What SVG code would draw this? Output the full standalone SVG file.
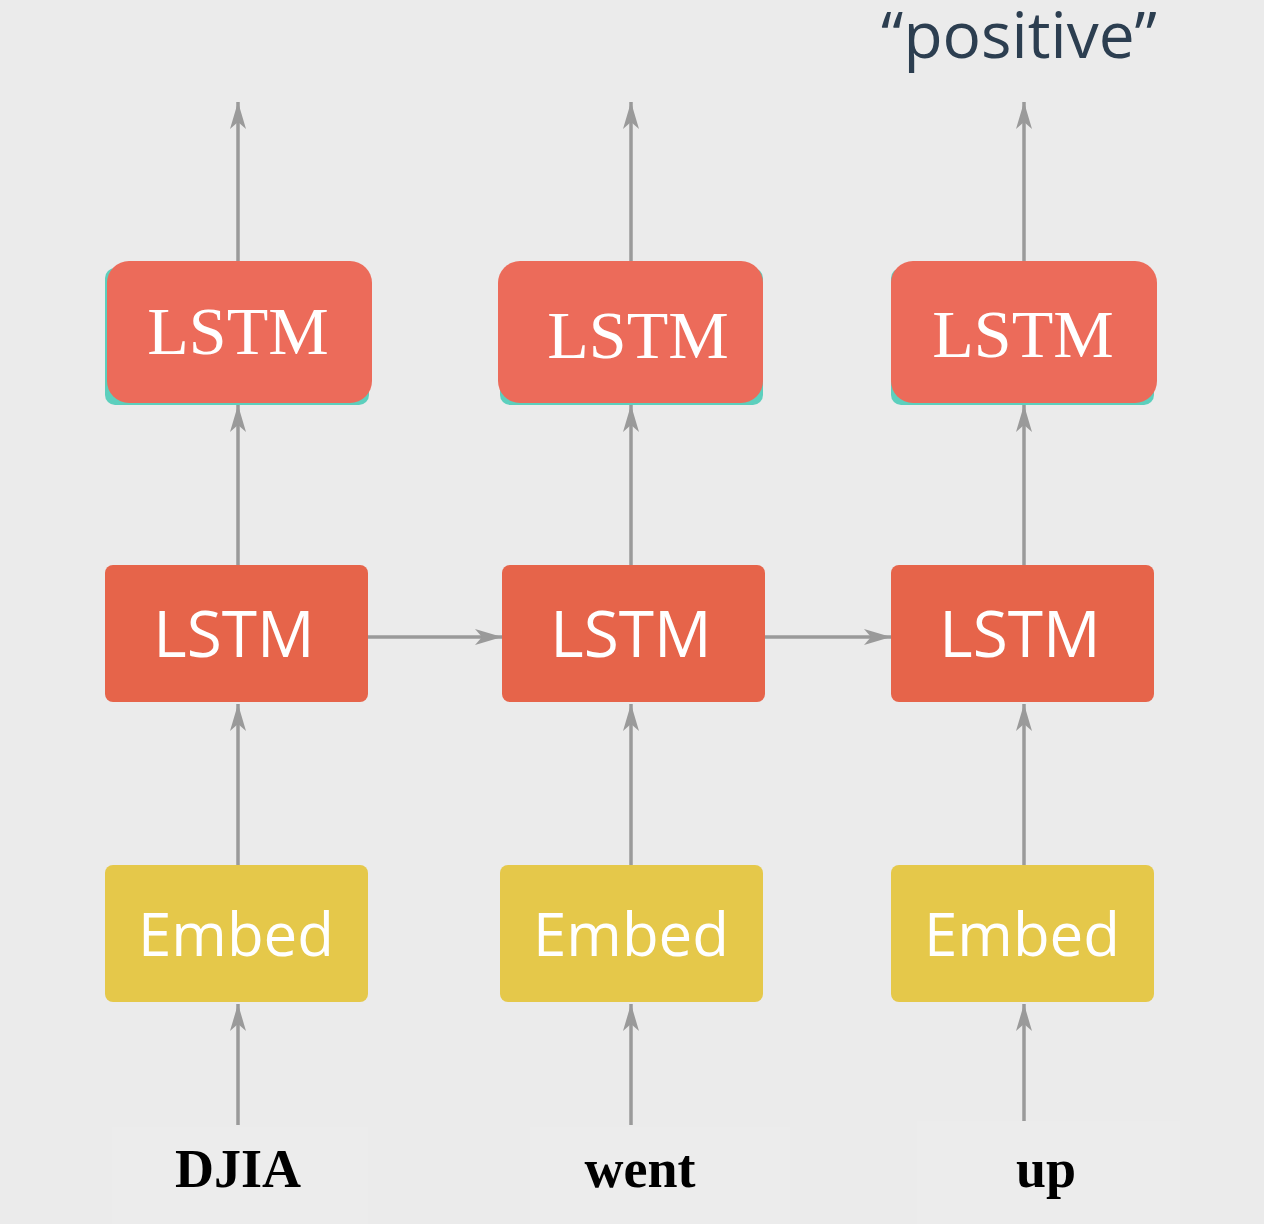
<svg xmlns="http://www.w3.org/2000/svg" width="1264" height="1224" viewBox="0 0 1264 1224">
<defs>
<marker id="ah" markerUnits="userSpaceOnUse" markerWidth="32" markerHeight="22" viewBox="-30 -11 32 22" refX="0" refY="0" orient="auto">
<path d="M0,0 L-27,-8 L-20,0 L-27,8 Z" fill="#9a9a9a"/>
</marker>
<style>
.conn{stroke:#9a9a9a;stroke-width:3.5;fill:none}
.top{fill:#ec6b5a}
.shadow{fill:#5ccfbd}
.mid{fill:#e6644a}
.emb{fill:#e5c84a}
.serif{font-family:"Liberation Serif","Times New Roman",serif;fill:#fff;font-size:68px;text-anchor:middle}
.sans{font-family:"Open Sans","Noto Sans",sans-serif;fill:#fff;font-size:60px;text-anchor:middle}
.sansl{font-family:"Open Sans","Noto Sans",sans-serif;fill:#fff;font-size:64px;text-anchor:middle}
.word{font-family:"Liberation Serif","Times New Roman",serif;font-weight:bold;fill:#000;font-size:54px;text-anchor:middle}
.wbg{fill:#ececec}
</style>
</defs>
<rect width="1264" height="1224" fill="#ebebeb"/>

<g id="connectors">
<line class="conn" x1="238" y1="261" x2="238" y2="102" marker-end="url(#ah)"/>
<line class="conn" x1="631" y1="261" x2="631" y2="102" marker-end="url(#ah)"/>
<line class="conn" x1="1024" y1="261" x2="1024" y2="102" marker-end="url(#ah)"/>
<line class="conn" x1="238" y1="565" x2="238" y2="405" marker-end="url(#ah)"/>
<line class="conn" x1="631" y1="565" x2="631" y2="405" marker-end="url(#ah)"/>
<line class="conn" x1="1024" y1="565" x2="1024" y2="405" marker-end="url(#ah)"/>
<line class="conn" x1="238" y1="865" x2="238" y2="704" marker-end="url(#ah)"/>
<line class="conn" x1="631" y1="865" x2="631" y2="704" marker-end="url(#ah)"/>
<line class="conn" x1="1024" y1="865" x2="1024" y2="704" marker-end="url(#ah)"/>
<line class="conn" x1="238" y1="1125" x2="238" y2="1004" marker-end="url(#ah)"/>
<line class="conn" x1="631" y1="1125" x2="631" y2="1004" marker-end="url(#ah)"/>
<line class="conn" x1="1024" y1="1121" x2="1024" y2="1004" marker-end="url(#ah)"/>
<line class="conn" x1="368" y1="637" x2="502" y2="637" marker-end="url(#ah)"/>
<line class="conn" x1="765" y1="637" x2="891" y2="637" marker-end="url(#ah)"/>
</g>

<g id="output">
<text x="1019" y="58" font-family="'Open Sans','Noto Sans',sans-serif" font-size="64" fill="#2c3e50" text-anchor="middle">“positive”</text>
</g>

<g id="lstm-top-1">
<rect class="shadow" x="105" y="268" width="264" height="137" rx="10"/>
<rect class="top" x="107" y="261" width="265" height="142" rx="22"/>
<text class="serif" x="238" y="354">LSTM</text>
</g>
<g id="lstm-top-2">
<rect class="shadow" x="500" y="268" width="263" height="137" rx="10"/>
<rect class="top" x="498" y="261" width="265" height="142" rx="22"/>
<text class="serif" x="638" y="358">LSTM</text>
</g>
<g id="lstm-top-3">
<rect class="shadow" x="891" y="268" width="263" height="137" rx="10"/>
<rect class="top" x="891" y="261" width="266" height="142" rx="22"/>
<text class="serif" x="1023" y="357">LSTM</text>
</g>

<g id="lstm-mid-1">
<rect class="mid" x="105" y="565" width="263" height="137" rx="8"/>
<text class="sansl" x="234" y="657">LSTM</text>
</g>
<g id="lstm-mid-2">
<rect class="mid" x="502" y="565" width="263" height="137" rx="8"/>
<text class="sansl" x="631" y="657">LSTM</text>
</g>
<g id="lstm-mid-3">
<rect class="mid" x="891" y="565" width="263" height="137" rx="8"/>
<text class="sansl" x="1020" y="657">LSTM</text>
</g>

<g id="embed-1">
<rect class="emb" x="105" y="865" width="263" height="137" rx="8"/>
<text class="sans" x="236" y="956">Embed</text>
</g>
<g id="embed-2">
<rect class="emb" x="500" y="865" width="263" height="137" rx="8"/>
<text class="sans" x="631" y="956">Embed</text>
</g>
<g id="embed-3">
<rect class="emb" x="891" y="865" width="263" height="137" rx="8"/>
<text class="sans" x="1022" y="956">Embed</text>
</g>

<g id="word-1">
<rect class="wbg" x="112" y="1127" width="256" height="97"/>
<text class="word" x="238" y="1187">DJIA</text>
</g>
<g id="word-2">
<rect class="wbg" x="530" y="1127" width="260" height="97"/>
<text class="word" x="640" y="1187">went</text>
</g>
<g id="word-3">
<rect class="wbg" x="917" y="1121" width="263" height="103"/>
<text class="word" x="1046" y="1187">up</text>
</g>
</svg>
